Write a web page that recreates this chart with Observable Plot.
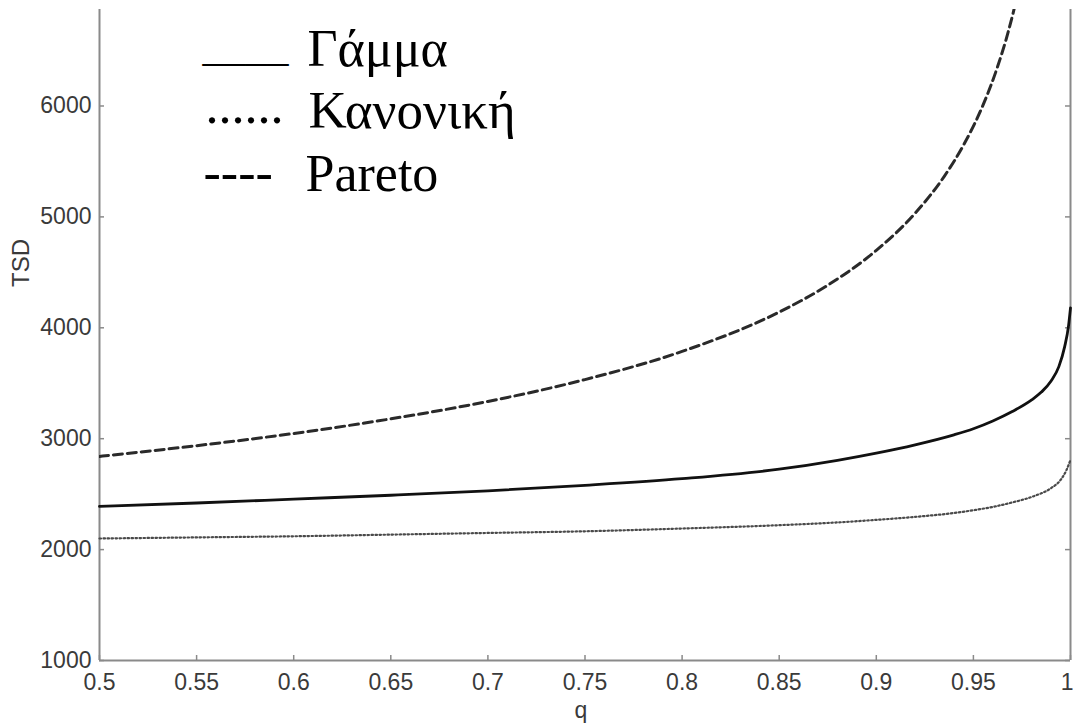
<!DOCTYPE html>
<html>
<head>
<meta charset="utf-8">
<script src="https://cdn.jsdelivr.net/npm/d3@7"></script>
<script src="https://cdn.jsdelivr.net/npm/@observablehq/plot@0.6"></script>
<style>
  html, body { margin: 0; padding: 0; background: #fff; }
  #chart { width: 1073px; height: 727px; overflow: hidden; }
</style>
</head>
<body>
<div id="chart"></div>
<script>
// Quantile level q and the TSD value for each distribution
const qPareto = [0.5, 0.55, 0.6, 0.65, 0.7, 0.75, 0.8, 0.85, 0.875, 0.9, 0.92, 0.935, 0.945, 0.955, 0.962, 0.968, 0.973, 0.976];
const tsdPareto = [2840, 2937, 3047, 3179, 3336, 3533, 3787, 4142, 4384, 4698, 5033, 5366, 5650, 6010, 6331, 6673, 7030, 7289];

const qGamma = [0.5, 0.55, 0.6, 0.65, 0.7, 0.75, 0.8, 0.85, 0.88, 0.9, 0.92, 0.94, 0.95, 0.96, 0.97, 0.98, 0.985, 0.99, 0.994, 0.997, 0.999, 1.0];
const tsdGamma = [2390, 2420, 2455, 2490, 2530, 2580, 2640, 2725, 2805, 2870, 2945, 3035, 3090, 3160, 3245, 3350, 3420, 3520, 3650, 3830, 4020, 4180];

const qNormal = [0.5, 0.55, 0.6, 0.65, 0.7, 0.75, 0.8, 0.85, 0.88, 0.9, 0.92, 0.94, 0.95, 0.96, 0.97, 0.98, 0.99, 0.995, 0.998, 1.0];
const tsdNormal = [2100, 2110, 2120, 2135, 2150, 2165, 2190, 2220, 2245, 2268, 2295, 2330, 2355, 2385, 2425, 2475, 2555, 2630, 2720, 2810];

// Axis ticks
const xTicks = [0.5, 0.55, 0.6, 0.65, 0.7, 0.75, 0.8, 0.85, 0.9, 0.95, 1];
const yTicks = [1000, 2000, 3000, 4000, 5000, 6000];

// Legend entries: marker string and name
const legendMarkers = ["____", "......", "----"];
const legendNames = ["Γάμμα", "Κανονική", "Pareto"];

const toRows = (qs, vs) => qs.map((q, i) => ({q, v: vs[i]}));
const pareto = toRows(qPareto, tsdPareto);
const gamma = toRows(qGamma, tsdGamma);
const normal = toRows(qNormal, tsdNormal);

const W = 1073, H = 727;
const mL = 99, mR = 3, mT = 9, mB = 67;
const frameW = W - mL - mR, frameH = H - mT - mB;
const tickLen = 5;
const axisColor = "#8a8a8a";
const labelColor = "#3a3a3a";
const sans = "'Liberation Sans', Arial, sans-serif";
const serif = "'Liberation Serif', 'Times New Roman', serif";
const fmtX = d => String(d);

const chart = Plot.plot({
  width: W,
  height: H,
  marginLeft: mL,
  marginRight: mR,
  marginTop: mT,
  marginBottom: mB,
  style: {background: "#fff", fontFamily: sans},
  x: {domain: [0.5, 1]},
  y: {domain: [1000, 6870]},
  marks: [
    // axis lines (left, right, bottom)
    Plot.ruleX([0.5, 1], {stroke: axisColor, strokeWidth: 2}),
    Plot.ruleY([1000], {stroke: axisColor, strokeWidth: 2}),
    // inward ticks
    Plot.tickY(yTicks, {y: d => d, stroke: axisColor, strokeWidth: 1.5, insetRight: frameW - tickLen}),
    Plot.tickY(yTicks, {y: d => d, stroke: axisColor, strokeWidth: 1.5, insetLeft: frameW - tickLen}),
    Plot.tickX(xTicks, {x: d => d, stroke: axisColor, strokeWidth: 1.5, insetTop: frameH - tickLen}),
    // tick labels
    Plot.axisY({ticks: yTicks, tickSize: 0, tickPadding: 8, label: null, fontSize: 23, fill: labelColor, tickFormat: d3.format("d")}),
    Plot.axisX({ticks: xTicks.slice(0, -1), tickSize: 0, tickPadding: 13, label: null, fontSize: 23, fill: labelColor, tickFormat: fmtX}),
    Plot.axisX({ticks: xTicks.slice(-1), tickSize: 0, tickPadding: 13, label: null, fontSize: 23, fill: labelColor, tickFormat: fmtX, textAnchor: "end", dx: 3}),
    // axis titles
    Plot.text(["q"], {frameAnchor: "bottom", dx: -4, dy: 50, fontSize: 23, fill: labelColor, lineAnchor: "middle"}),
    Plot.text(["TSD"], {frameAnchor: "left", dx: -78, dy: -48, rotate: -90, fontSize: 24, fill: labelColor}),
    // series
    Plot.line(normal, {x: "q", y: "v", stroke: "#4a4a4a", strokeWidth: 2.2, strokeDasharray: "1.5,2.5", curve: "monotone-x"}),
    Plot.line(gamma, {x: "q", y: "v", stroke: "#111", strokeWidth: 2.8, curve: "monotone-x"}),
    Plot.line(pareto, {x: "q", y: "v", stroke: "#2a2a2a", strokeWidth: 3, strokeDasharray: "9,5", curve: "monotone-x", clip: true}),
    // legend
    Plot.text([legendMarkers[0]], {frameAnchor: "top-left", dx: 103, dy: 51, fontSize: 43, fontFamily: serif, fill: "#000", textAnchor: "start", lineAnchor: "bottom"}),
    Plot.text([legendMarkers[1]], {frameAnchor: "top-left", dx: 106, dy: 113, fontSize: 52, fontFamily: serif, fill: "#000", textAnchor: "start", lineAnchor: "bottom"}),
    Plot.text([legendMarkers[2]], {frameAnchor: "top-left", dx: 104, dy: 180, fontSize: 52, fontFamily: serif, fill: "#000", textAnchor: "start", lineAnchor: "bottom"}),
    Plot.text([legendNames[0]], {frameAnchor: "top-left", dx: 208, dy: 56, fontSize: 52, fontFamily: serif, fill: "#000", textAnchor: "start", lineAnchor: "bottom"}),
    Plot.text([legendNames[1]], {frameAnchor: "top-left", dx: 209, dy: 118, fontSize: 53, fontFamily: serif, fill: "#000", textAnchor: "start", lineAnchor: "bottom", letterSpacing: 1}),
    Plot.text([legendNames[2]], {frameAnchor: "top-left", dx: 206, dy: 181, fontSize: 52, fontFamily: serif, fill: "#000", textAnchor: "start", lineAnchor: "bottom"})
  ]
});

document.getElementById("chart").appendChild(chart);
</script>
</body>
</html>
